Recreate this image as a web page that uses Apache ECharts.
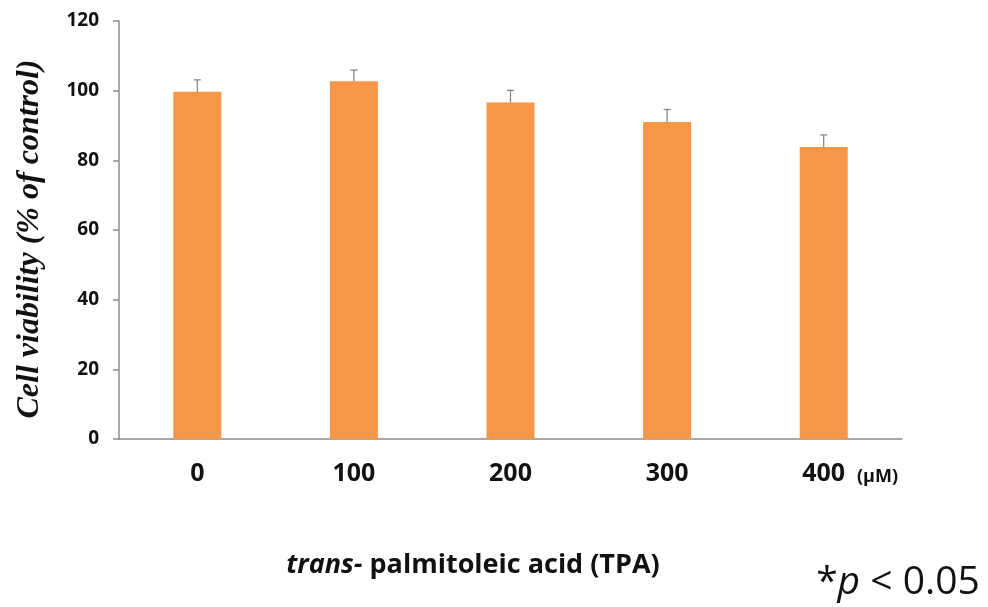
<!DOCTYPE html>
<html>
<head>
<meta charset="utf-8">
<script src="https://cdn.jsdelivr.net/npm/echarts@6/dist/echarts.min.js"></script>
<style>html,body{margin:0;padding:0;background:#fff}#c{width:988px;height:607px}</style>
</head>
<body>
<div id="c"></div>
<script>
const categories = ['0', '100', '200', '300', '400'];
const viability = [99.7, 102.7, 96.6, 91.0, 83.8];
const errors = [3.4, 3.2, 3.5, 3.6, 3.5];
const yTicks = [0, 20, 40, 60, 80, 100, 120];

const chart = echarts.init(document.getElementById('c'));
chart.setOption({
  animation: false,
  backgroundColor: '#ffffff',
  grid: { left: 119, right: 86, top: 21, bottom: 168 },
  xAxis: {
    type: 'category',
    data: categories,
    axisLine: { lineStyle: { color: '#8c8c8c', width: 1.5 } },
    axisTick: { show: false },
    axisLabel: { color: '#111', fontFamily: 'Open Sans', fontWeight: 'bold', fontSize: 25, margin: 22 }
  },
  yAxis: {
    type: 'value',
    min: yTicks[0], max: yTicks[yTicks.length - 1], interval: 20,
    axisLine: { show: true, lineStyle: { color: '#8c8c8c', width: 1.5 } },
    axisTick: { show: true, length: 6, lineStyle: { color: '#8c8c8c', width: 1.5 } },
    splitLine: { show: false },
    axisLabel: { color: '#111', fontFamily: 'Open Sans', fontWeight: 'bold', fontSize: 19, margin: 20 }
  },
  series: [
    {
      type: 'bar',
      data: viability,
      barWidth: 48,
      itemStyle: { color: '#F79646' },
      z: 2
    },
    {
      type: 'custom',
      data: viability.map((v, i) => [i, v, errors[i]]),
      z: 3,
      renderItem: function (params, api) {
        const i = api.value(0);
        const top = api.coord([i, api.value(1) + api.value(2)]);
        const base = api.coord([i, api.value(1)]);
        const cap = 3.5;
        return {
          type: 'group',
          children: [
            { type: 'line', shape: { x1: base[0], y1: base[1], x2: top[0], y2: top[1] }, style: { stroke: '#7f7f7f', lineWidth: 1.2 } },
            { type: 'line', shape: { x1: top[0] - cap, y1: top[1], x2: top[0] + cap, y2: top[1] }, style: { stroke: '#7f7f7f', lineWidth: 1.2 } }
          ]
        };
      }
    }
  ],
  graphic: [
    {
      type: 'text',
      x: 30, y: 239, rotation: Math.PI / 2,
      style: {
        text: 'Cell viability (% of control)',
        fill: '#111',
        font: 'italic bold 32px "Liberation Serif"',
        align: 'center', verticalAlign: 'middle'
      }
    },
    {
      type: 'text',
      x: 857, y: 477,
      style: {
        text: '(μM)',
        fill: '#111',
        font: 'bold 18px "Open Sans"',
        align: 'left', verticalAlign: 'middle'
      }
    },
    {
      type: 'text',
      x: 473, y: 565,
      style: {
        text: '{i|trans-}{b| palmitoleic acid (TPA)}',
        align: 'center', verticalAlign: 'middle',
        rich: {
          i: { fontFamily: 'Open Sans', fontStyle: 'italic', fontWeight: 'bold', fontSize: 27, fill: '#111' },
          b: { fontFamily: 'Open Sans', fontWeight: 'bold', fontSize: 27, fill: '#111' }
        }
      }
    },
    {
      type: 'text',
      x: 898, y: 583,
      style: {
        text: '{n|*}{i|p}{n| < 0.05}',
        align: 'center', verticalAlign: 'middle',
        rich: {
          n: { fontFamily: 'Open Sans', fontSize: 39, fill: '#111' },
          i: { fontFamily: 'Open Sans', fontStyle: 'italic', fontSize: 39, fill: '#111' }
        }
      }
    }
  ]
});
</script>
</body>
</html>
